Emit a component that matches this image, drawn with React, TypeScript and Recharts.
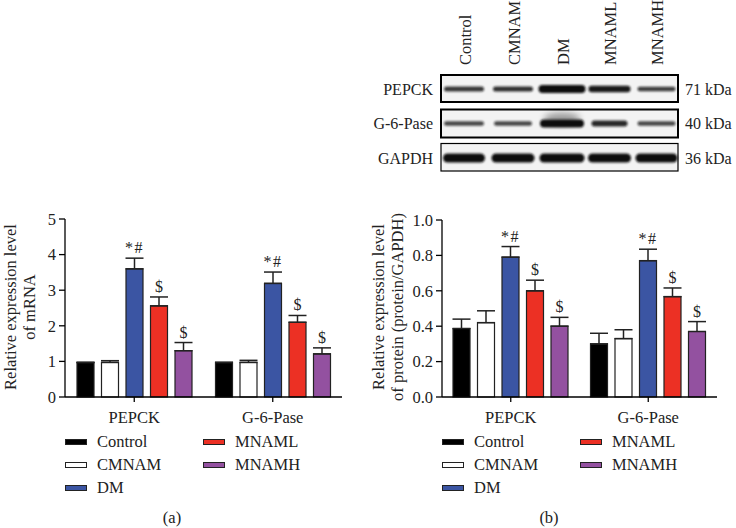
import React from 'react';
import { BarChart, Bar, XAxis, YAxis, ErrorBar, LabelList, Label } from 'recharts';

const FONT = '"Liberation Serif", "Times New Roman", serif';
const FS = 16.5;

const categories = ['PEPCK', 'G-6-Pase'];
const groups = ['Control', 'CMNAM', 'DM', 'MNAML', 'MNAMH'];
const groupColors = ['#000000', '#ffffff', '#3b55a3', '#ec3024', '#9351a0'];

const mrnaPEPCK = [0.97, 0.97, 3.6, 2.56, 1.3];
const mrnaPEPCKErr = [0, 0.05, 0.3, 0.25, 0.23];
const mrnaG6P = [0.97, 0.97, 3.19, 2.1, 1.21];
const mrnaG6PErr = [0, 0.06, 0.32, 0.19, 0.17];

const proteinPEPCK = [0.387, 0.42, 0.79, 0.6, 0.4];
const proteinPEPCKErr = [0.053, 0.067, 0.06, 0.06, 0.05];
const proteinG6P = [0.3, 0.33, 0.77, 0.567, 0.37];
const proteinG6PErr = [0.06, 0.05, 0.065, 0.049, 0.056];

const sigPEPCK = ['', '', '*#', '$', '$'];
const sigG6P = ['', '', '*#', '$', '$'];

const mrnaTicks = [0, 1, 2, 3, 4, 5];
const proteinTicks = [0, 0.2, 0.4, 0.6, 0.8, 1.0];

const blotRows = ['PEPCK', 'G-6-Pase', 'GAPDH'];
const blotKda = ['71 kDa', '40 kDa', '36 kDa'];
const blotIntensity = [
  [0.82, 0.85, 1, 0.95, 0.8],
  [0.75, 0.75, 1, 0.88, 0.75],
  [1, 1, 1, 1, 1],
];
const blotThickness = [
  [5, 5, 8, 6.5, 4.5],
  [4.5, 4.5, 8, 6, 4.5],
  [9, 9, 9, 9, 9],
];

function buildRows(vals: number[][], errs: number[][], sigs: string[][]) {
  return categories.map((c, ci) => {
    const row: any = { category: c };
    groups.forEach((g, gi) => {
      row[g] = vals[ci][gi];
      row[g + '_err'] = [0, errs[ci][gi]];
      row[g + '_lab'] = `${sigs[ci][gi]}|${errs[ci][gi]}|${vals[ci][gi]}`;
    });
    return row;
  });
}

const mrnaRows = buildRows([mrnaPEPCK, mrnaG6P], [mrnaPEPCKErr, mrnaG6PErr], [sigPEPCK, sigG6P]);
const proteinRows = buildRows([proteinPEPCK, proteinG6P], [proteinPEPCKErr, proteinG6PErr], [sigPEPCK, sigG6P]);

const SigLabel = (props: any) => {
  const { x, y, width, height, value } = props;
  const parts = String(value).split('|');
  const sig = parts[0];
  if (!sig) return null;
  const err = Number(parts[1]);
  const val = Number(parts[2]);
  const ppu = Number(height) / val;
  const top = Number(y) - err * ppu;
  return (
    <text
      x={Number(x) + Number(width) / 2}
      y={top - 5}
      textAnchor="middle"
      fontSize={16}
      letterSpacing={sig.length > 1 ? 1.5 : 0}
      fontFamily={FONT}
      fill="#222"
    >
      {sig}
    </text>
  );
};

function YLabel(lines: string[], cy: number) {
  return () => (
    <g>
      {lines.map((l, i) => (
        <text
          key={i}
          x={0}
          y={0}
          transform={`translate(${i === 0 ? 10 : 29}, ${cy}) rotate(-90)`}
          textAnchor="middle"
          dominantBaseline="central"
          fontSize={FS}
          fontFamily={FONT}
          fill="#222"
        >
          {l}
        </text>
      ))}
    </g>
  );
}

function Chart(props: {
  rows: any[];
  ticks: number[];
  yAxisWidth: number;
  marginRight: number;
  marginTop: number;
  labelLines: string[];
  fmt: (v: number) => string;
}) {
  const { rows, ticks, yAxisWidth, marginRight, marginTop, labelLines, fmt } = props;
  return (
    <BarChart
      width={368}
      height={528}
      data={rows}
      margin={{ top: marginTop, right: marginRight, bottom: 101, left: 0 }}
      barSize={17}
      barGap={7.5}
    >
      <XAxis
        dataKey="category"
        height={30}
        stroke="#000"
        strokeWidth={1.3}
        tickSize={5}
        tickMargin={9}
        tick={{ fill: '#222', fontSize: FS, fontFamily: FONT }}
      />
      <YAxis
        width={yAxisWidth}
        domain={[ticks[0], ticks[ticks.length - 1]]}
        ticks={ticks}
        interval={0}
        stroke="#000"
        strokeWidth={1.3}
        tickSize={6}
        tickMargin={3}
        tickFormatter={fmt}
        tick={{ fill: '#222', fontSize: FS, fontFamily: FONT }}
      >
        <Label content={YLabel(labelLines, 307)} />
      </YAxis>
      {groups.map((g, gi) => (
        <Bar key={g} dataKey={g} fill={groupColors[gi]} stroke="#222" strokeWidth={1.2} isAnimationActive={false}>
          <ErrorBar dataKey={g + '_err'} width={9} stroke="#222" strokeWidth={1.5} direction="y" />
          <LabelList dataKey={g + '_lab'} content={SigLabel} />
        </Bar>
      ))}
    </BarChart>
  );
}

function LegendBlock({ left, col2 }: { left: number; col2: number }) {
  const rowsY = [442, 465, 488];
  const items = groups.map((g, gi) => ({
    name: g,
    color: groupColors[gi],
    x: gi < 3 ? left : col2,
    y: rowsY[gi < 3 ? gi : gi - 3],
  }));
  return (
    <>
      {items.map((it) => (
        <div key={it.name}>
          <div
            style={{
              position: 'absolute',
              left: it.x,
              top: it.y - 3,
              width: 20,
              height: 4,
              background: it.color,
              border: '1px solid #222',
            }}
          />
          <div
            style={{
              position: 'absolute',
              left: it.x + 32,
              top: it.y - 10,
              height: 20,
              lineHeight: '20px',
              fontSize: FS,
              fontFamily: FONT,
              color: '#222',
              whiteSpace: 'nowrap',
            }}
          >
            {it.name}
          </div>
        </div>
      ))}
    </>
  );
}

const laneX = [464, 513, 562, 609.5, 656.5];
const laneW = [
  [40, 40, 47, 42, 38],
  [40, 38, 44, 36, 38],
  [42, 43, 45, 43, 42],
];
const rowBox = [
  { y: 75, h: 27, sw: 2 },
  { y: 109.5, h: 28, sw: 2 },
  { y: 143.5, h: 27.5, sw: 1.2 },
];
const bandY = [89, 123.5, 158];

function Blot() {
  return (
    <svg width={736} height={180} style={{ position: 'absolute', left: 0, top: 0 }}>
      <defs>
        <filter id="blur" x="-20%" y="-100%" width="140%" height="300%">
          <feGaussianBlur stdDeviation="1.1" />
        </filter>
        <filter id="blur2" x="-20%" y="-100%" width="140%" height="300%">
          <feGaussianBlur stdDeviation="3" />
        </filter>
      </defs>
      {groups.map((g, i) => (
        <text
          key={g}
          transform={`translate(${laneX[i] + 1}, 65) rotate(-90)`}
          textAnchor="start"
          dominantBaseline="central"
          fontSize={16.5}
          fontFamily={FONT}
          fill="#222"
        >
          {g}
        </text>
      ))}
      {blotRows.map((r, ri) => (
        <g key={r}>
          <rect
            x={441}
            y={rowBox[ri].y}
            width={237}
            height={rowBox[ri].h}
            fill="#f3f3f3"
            stroke="#000"
            strokeWidth={rowBox[ri].sw}
          />
          {ri === 1 && (
            <ellipse cx={laneX[2]} cy={bandY[1] - 5} rx={18} ry={6} fill="#000" opacity={0.35} filter="url(#blur2)" />
          )}
          {laneX.map((lx, li) => {
            const w = laneW[ri][li];
            const h = blotThickness[ri][li];
            return (
              <rect
                key={li}
                x={lx - w / 2}
                y={bandY[ri] - h / 2}
                width={w}
                height={h}
                rx={h / 2}
                fill="#111"
                opacity={blotIntensity[ri][li]}
                filter="url(#blur)"
              />
            );
          })}
          <text
            x={433}
            y={bandY[ri]}
            textAnchor="end"
            dominantBaseline="central"
            fontSize={16}
            fontFamily={FONT}
            fill="#222"
          >
            {r}
          </text>
          <text x={685} y={bandY[ri]} dominantBaseline="central" fontSize={16} fontFamily={FONT} fill="#222">
            {blotKda[ri]}
          </text>
        </g>
      ))}
    </svg>
  );
}

export default function App() {
  return (
    <div style={{ position: 'absolute', left: 0, top: 0, width: 736, height: 528, background: '#fff', overflow: 'hidden' }}>
      <div style={{ position: 'absolute', left: 0, top: 0 }}>
        <Chart
          rows={mrnaRows}
          ticks={mrnaTicks}
          yAxisWidth={65}
          marginRight={26}
          marginTop={219}
          labelLines={['Relative expression level', 'of mRNA']}
          fmt={(v) => String(v)}
        />
      </div>
      <div style={{ position: 'absolute', left: 368, top: 0 }}>
        <Chart
          rows={proteinRows}
          ticks={proteinTicks}
          yAxisWidth={74}
          marginRight={19}
          marginTop={220}
          labelLines={['Relative expression level', 'of protein (protein/GAPDH)']}
          fmt={(v) => v.toFixed(1)}
        />
      </div>
      <Blot />
      <LegendBlock left={65} col2={203} />
      <LegendBlock left={442} col2={580} />
      <div style={{ position: 'absolute', left: 152, top: 508, width: 40, textAlign: 'center', fontSize: FS, fontFamily: FONT, color: '#222' }}>
        (a)
      </div>
      <div style={{ position: 'absolute', left: 529, top: 508, width: 40, textAlign: 'center', fontSize: FS, fontFamily: FONT, color: '#222' }}>
        (b)
      </div>
    </div>
  );
}
